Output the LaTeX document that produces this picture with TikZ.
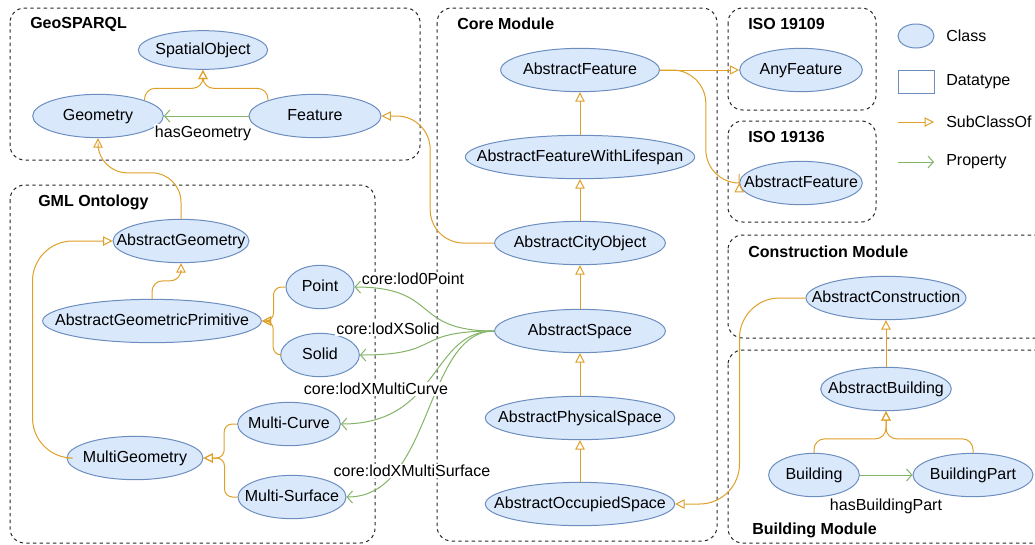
\documentclass[tikz,border=0pt]{standalone}
\usepackage{fontspec}
\setmainfont{Liberation Sans}
\usetikzlibrary{arrows.meta,shapes.geometric}
\definecolor{clsfill}{HTML}{DAE8FC}
\definecolor{clsdraw}{HTML}{6C8EBF}
\definecolor{subc}{HTML}{DFA02A}
\definecolor{propc}{HTML}{82B366}

\begin{document}
\begin{tikzpicture}[x=0.75pt,y=-0.75pt,font=\fontsize{12}{14}\selectfont,
cls/.style={ellipse,draw=clsdraw,fill=clsfill,line width=0.75pt,inner sep=0pt,minimum height=32.5pt,
  text height=8.8pt,text depth=2.6pt,
  execute at begin node=\hbox to 0pt\bgroup\hss,execute at end node=\hss\egroup},
grp/.style={draw=black!85,dash pattern=on 2.5pt off 2.5pt,rounded corners=11pt,line width=0.75pt},
ttl/.style={font=\fontsize{12}{14}\selectfont\bfseries,anchor=west,inner sep=0pt},
key/.style={anchor=west,inner sep=0pt},
lbl/.style={fill=white,inner sep=1pt},
sub/.style={draw=subc,line width=0.75pt,-{Triangle[open,length=7pt,width=7pt]},rounded corners=8},
prop/.style={draw=propc,line width=0.75pt,-{Straight Barb[length=4pt,width=9pt]}}]
\clip (0,0) rectangle (1035,544);
\draw[grp] (10,8) rectangle (420,160);
\draw[grp] (10,185) rectangle (375,543);
\draw[grp] (437,8) rectangle (717,541);
\draw[grp] (728,8) rectangle (876,110);
\draw[grp] (728,121) rectangle (876,222);
\draw[grp] (728,235) rectangle (1050,338);
\draw[grp] (728,350) rectangle (1050,543);
\node[ttl] (tgeo) at (30,24) {GeoSPARQL};
\node[ttl] (tgml) at (38,202) {GML Ontology};
\node[ttl] (tcore) at (457,24) {Core Module};
\node[ttl] (tiso9) at (748,24) {ISO 19109};
\node[ttl] (tiso6) at (748,137) {ISO 19136};
\node[ttl] (tconstr) at (748,252) {Construction Module};
\node[ttl] (tbldg) at (752,530) {Building Module};
\node[cls,minimum width=97pt,minimum height=29pt] (sobj) at (203,50) {SpatialObject};
\node[cls,minimum width=98pt] (geom) at (98,116) {Geometry};
\node[cls,minimum width=99pt] (feat) at (315,116) {Feature};
\node[cls,minimum width=102pt] (ageom) at (181,241) {AbstractGeometry};
\node[cls,minimum width=164pt] (agprim) at (152,321) {AbstractGeometricPrimitive};
\node[cls,minimum width=51pt] (point) at (320,287) {Point};
\node[cls,minimum width=59pt] (solid) at (320,355) {Solid};
\node[cls,minimum width=77pt] (mcurve) at (289,424) {Multi-Curve};
\node[cls,minimum width=102pt] (mgeom) at (135,458) {MultiGeometry};
\node[cls,minimum width=81pt] (msurf) at (292,497) {Multi-Surface};
\node[cls,minimum width=119pt] (afeat) at (580,70) {AbstractFeature};
\node[cls,minimum width=172pt] (afwl) at (580,157) {AbstractFeatureWithLifespan};
\node[cls,minimum width=128pt] (acobj) at (580,243) {AbstractCityObject};
\node[cls,minimum width=128pt] (aspace) at (580,331) {AbstractSpace};
\node[cls,minimum width=142pt] (apspace) at (580,418) {AbstractPhysicalSpace};
\node[cls,minimum width=142pt] (aospace) at (580,504) {AbstractOccupiedSpace};
\node[cls,minimum width=92pt] (anyfeat) at (801,70) {AnyFeature};
\node[cls,minimum width=92pt] (isofeat) at (801,183) {AbstractFeature};
\node[cls,minimum width=120pt] (aconstr) at (886,298) {AbstractConstruction};
\node[cls,minimum width=98pt] (abldg) at (886,389) {AbstractBuilding};
\node[cls,minimum width=68pt] (bldg) at (814,475) {Building};
\node[cls,minimum width=90pt] (bpart) at (973,475) {BuildingPart};
\draw[sub] (geom.north east) -- ++(0,-12) -| (sobj.south); \draw[sub] (feat.north west) -- ++(0,-12) -| (sobj.south);
\draw[prop] (feat.west) -- (geom.east);
\draw[sub,rounded corners=22] (ageom.north) -- ++(0,-46) -| (geom.south);
\draw[sub] (agprim.north) -- ++(0,-18) -| (ageom.south);
\draw[sub,rounded corners=30] (mgeom.west) -- ++(-34,0) |- (ageom.west);
\draw[sub,rounded corners=6] (point.west) -- ++(-12,0) |- (agprim.east); \draw[sub,rounded corners=6] (solid.west) -- ++(-7,0) |- (agprim.east);
\draw[sub,rounded corners=6] (mcurve.west) -- ++(-13,0) |- (mgeom.east); \draw[sub,rounded corners=6] (msurf.west) -- ++(-13,0) |- (mgeom.east);
\draw[sub] (afeat.east) -- (anyfeat.west); \draw[sub,rounded corners=25] (afeat.east) -- ++(46,0) |- (isofeat.west);
\draw[sub] (afwl.north) -- (afeat.south); \draw[sub] (acobj.north) -- (afwl.south);
\draw[sub] (aspace.north) -- (acobj.south); \draw[sub] (apspace.north) -- (aspace.south); \draw[sub] (aospace.north) -- (apspace.south);
\draw[sub,rounded corners=25] (acobj.west) -- ++(-64,0) |- (feat.east);
\draw[sub,rounded corners=30] (aconstr.west) -- ++(-66,0) |- (aospace.east);
\draw[sub] (abldg.north) -- (aconstr.south);
\draw[sub] (bldg.north) -- ++(0,-14) -| (abldg.south); \draw[sub] (bpart.north) -- ++(0,-14) -| (abldg.south);
\draw[prop] (bldg.east) -- (bpart.west);
\draw[prop] (aspace.west) .. controls +(-84,0) and +(86,0) .. (point.east);
\draw[prop] (aspace.west) .. controls +(-84,0) and +(85,0) .. (solid.east);
\draw[prop] (aspace.west) .. controls +(-64,0) and +(100,0) .. (mcurve.east);
\draw[prop] (aspace.west) .. controls +(-70,0) and +(86,0) .. (msurf.east);
\node[lbl] (hasgeom) at (203,133) {hasGeometry};
\node[lbl] (hasbp) at (886,506) {hasBuildingPart};
\node[lbl] (lpoint) at (413,279) {core:lod0Point};
\node[lbl] (lsolid) at (388,329) {core:lodXSolid};
\node[lbl] (lmcurve) at (376,389) {core:lodXMultiCurve};
\node[lbl] (lmsurf) at (412,471) {core:lodXMultiSurface};
\node[cls,minimum width=27pt,minimum height=18pt] (keycls) at (916,36) {};
\node[draw=clsdraw,line width=0.75pt,minimum width=27pt,minimum height=17pt] (keydt) at (916,82) {};
\coordinate (keys1) at (898,122); \coordinate (keys2) at (934,122);
\coordinate (keyp1) at (898,162); \coordinate (keyp2) at (934,162);
\draw[sub] (keys1) -- (keys2); \draw[prop] (keyp1) -- (keyp2);
\node[key] (keyclst) at (946,36) {Class};
\node[key] (keydtt) at (946,82) {Datatype};
\node[key] (keysubt) at (946,122) {SubClassOf};
\node[key] (keypropt) at (946,162) {Property};
\end{tikzpicture}
\end{document}
